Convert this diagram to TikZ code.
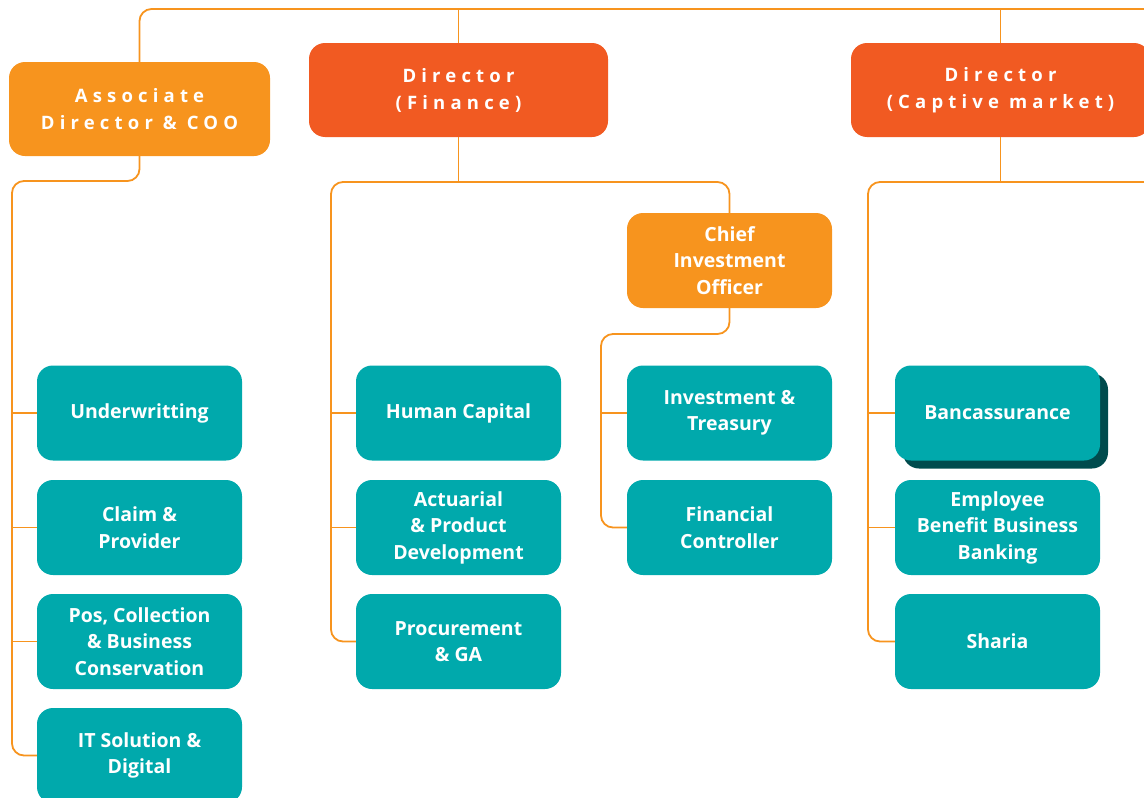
\documentclass[tikz,border=0pt]{standalone}
\usepackage{fontspec}
\setmainfont{Open Sans}
\newfontfamily\spacedfont{Open Sans}[LetterSpace=28]
\usetikzlibrary{shadows}
\definecolor{orgA}{HTML}{F7941E}
\definecolor{orgB}{HTML}{F15A22}
\definecolor{tealA}{HTML}{00A9AC}
\definecolor{tealD}{HTML}{004B4D}
\begin{document}
\begin{tikzpicture}[x=1pt, y=-1pt,
    box/.style={rounded corners=16pt, text=white, align=center, font=\bfseries\fontsize{19.5}{26.5}\selectfont, inner sep=0pt},
    unit/.style={box, fill=tealA, minimum width=205pt, minimum height=95pt},
    head/.style={box, minimum height=94pt, font=\spacedfont\bfseries\fontsize{18.5}{27}\selectfont},
    link/.style={draw=orgA, line width=1.8pt, rounded corners=12pt}]
  \useasboundingbox (0,0) rectangle (1144,798);
  \clip (0,0) rectangle (1144,798);
          \node [head,fill=orgA,minimum width=261pt] (coo) at (139.5,109) {Associate\\Director \& COO};
          \node [head,fill=orgB,minimum width=299pt] (fin) at (458.5,90) {Director\\(Finance)};
          \node [head,fill=orgB,minimum width=299pt] (cap) at (1000.5,90) {Director\\(Captive market)};
          \node [box,fill=orgA,minimum width=205pt,minimum height=95pt] (cio) at (729.5,260.5) {Chief\\Investment\\Officer};
          \node [unit] (uw) at (139.5,413) {Underwritting};
          \node [unit] (claim) at (139.5,527.5) {Claim \&\\Provider};
          \node [unit] (pos) at (139.5,641.5) {Pos, Collection\\\& Business\\Conservation};
          \node [unit] (it) at (139.5,755.5) {IT Solution \&\\Digital};
          \node [unit] (hc) at (458.5,413) {Human Capital};
          \node [unit] (act) at (458.5,527.5) {Actuarial\\\& Product\\Development};
          \node [unit] (proc) at (458.5,641.5) {Procurement\\\& GA};
          \node [unit] (inv) at (729.5,413) {Investment \&\\Treasury};
          \node [unit] (fc) at (729.5,527.5) {Financial\\Controller};
          \node [unit,drop shadow={shadow xshift=8pt,shadow yshift=-8pt,fill=tealD,opacity=1}] (banc) at (997.5,413) {Bancassurance};
          \node [unit] (emp) at (997.5,527.5) {Employee\\Benefit Business\\Banking};
          \node [unit] (sha) at (997.5,641.5) {Sharia};
          \coordinate (topR) at (1160,9);
          \coordinate (railL) at (12,181);
          \coordinate (railF) at (331,182);
          \coordinate (railI) at (601,334);
          \coordinate (railC) at (868,182);
          \coordinate (railCR) at (1160,182);
          \draw [link] (coo.north) |- (topR);
          \draw [link] (fin.north) -- (fin.north |- topR);
          \draw [link] (cap.north) -- (cap.north |- topR);
          \draw [link] (coo.south) |- (railL) |- (it.west);
          \draw [link] (uw.west) -- (uw.west -| railL);
          \draw [link] (claim.west) -- (claim.west -| railL);
          \draw [link] (pos.west) -- (pos.west -| railL);
          \draw [link] (fin.south) -- (fin.south |- railF);
          \draw [link] (cio.north) |- (railF) |- (proc.west);
          \draw [link] (hc.west) -- (hc.west -| railF);
          \draw [link] (act.west) -- (act.west -| railF);
          \draw [link] (cio.south) |- (railI) |- (fc.west);
          \draw [link] (inv.west) -- (inv.west -| railI);
          \draw [link] (cap.south) -- (cap.south |- railC);
          \draw [link] (railCR) -- (railC) |- (sha.west);
          \draw [link] (banc.west) -- (banc.west -| railC);
          \draw [link] (emp.west) -- (emp.west -| railC);
        \end{tikzpicture}
\end{document}
